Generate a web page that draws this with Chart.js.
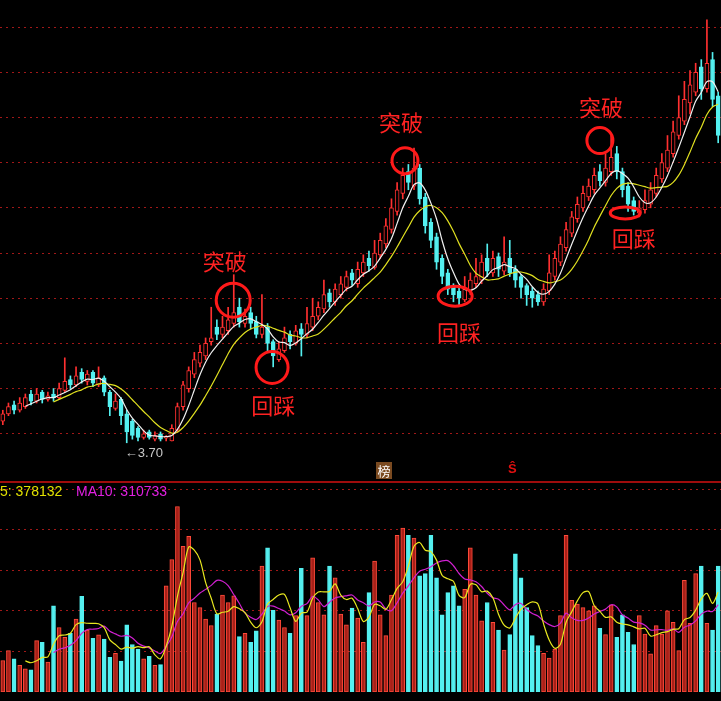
<!DOCTYPE html>
<html><head><meta charset="utf-8">
<script src="https://cdn.jsdelivr.net/npm/chart.js@4"></script>
<style>
html,body{margin:0;padding:0;background:#000;overflow:hidden;width:721px;height:701px;}
#p{position:absolute;left:0;top:0;width:721px;height:480px;}
#v{position:absolute;left:0;top:481px;width:721px;height:220px;border-top:2px solid #a00c0c;box-sizing:border-box;}
.t{position:absolute;font-family:Arial,"Liberation Sans",sans-serif;font-size:14px;white-space:nowrap;}
</style></head><body>
<div id="p"><canvas id="cp"></canvas></div>
<div id="v"><canvas id="cv"></canvas></div>
<div class="t" style="left:0;top:483px;color:#e0e000;">5: 378132</div>
<div class="t" style="left:76px;top:483px;color:#e020e0;">MA10: 310733</div>
<div class="t" style="left:376px;top:462px;width:16px;height:17px;background:#7a4a20;color:#fff;font-size:13px;text-align:center;font-family:'Noto Sans CJK SC';line-height:17px;">榜</div>
<div class="t" style="left:508px;top:461px;color:#e01010;font-size:13px;font-weight:bold;">Ŝ</div>
<script>
const opens=[3.82,3.86,3.91,3.88,3.90,3.97,3.93,3.98,3.94,3.97,3.95,3.99,4.05,4.02,4.09,4.04,4.09,4.02,4.06,3.98,3.89,3.94,3.86,3.82,3.78,3.73,3.76,3.72,3.75,3.73,3.71,3.77,3.90,4.00,4.08,4.14,4.18,4.26,4.34,4.30,4.32,4.36,4.45,4.36,4.42,4.37,4.30,4.34,4.26,4.16,4.21,4.30,4.25,4.33,4.30,4.34,4.40,4.44,4.53,4.48,4.52,4.56,4.64,4.58,4.64,4.72,4.67,4.74,4.80,4.88,4.98,5.08,5.20,5.12,5.22,5.06,4.92,4.84,4.72,4.64,4.56,4.54,4.49,4.54,4.58,4.60,4.72,4.64,4.73,4.65,4.72,4.66,4.62,4.57,4.54,4.52,4.48,4.54,4.62,4.70,4.78,4.86,4.94,5.00,5.06,5.10,5.20,5.14,5.20,5.30,5.20,5.12,5.04,4.97,4.99,5.02,5.08,5.16,5.22,5.30,5.40,5.48,5.58,5.64,5.78,5.66,5.82,5.62];
const closes=[3.86,3.90,3.88,3.92,3.95,3.93,3.97,3.94,3.96,3.95,4.00,4.04,4.02,4.07,4.05,4.08,4.03,4.06,3.98,3.90,3.93,3.85,3.76,3.74,3.73,3.75,3.73,3.74,3.72,3.73,3.78,3.90,4.02,4.10,4.16,4.20,4.25,4.28,4.30,4.34,4.38,4.42,4.37,4.40,4.36,4.30,4.34,4.25,4.18,4.22,4.28,4.26,4.32,4.30,4.36,4.40,4.45,4.52,4.48,4.55,4.58,4.62,4.60,4.66,4.70,4.68,4.75,4.82,4.90,5.00,5.10,5.18,5.14,5.22,5.05,4.90,4.82,4.70,4.62,4.55,4.52,4.50,4.55,4.60,4.62,4.70,4.65,4.72,4.66,4.70,4.64,4.60,4.56,4.52,4.50,4.48,4.55,4.64,4.72,4.80,4.88,4.95,5.02,5.08,5.12,5.18,5.15,5.22,5.28,5.20,5.10,5.02,4.98,5.00,5.04,5.10,5.18,5.25,5.32,5.42,5.50,5.60,5.68,5.75,5.66,5.80,5.60,5.40];
const highs=[3.88,3.92,3.93,3.95,3.97,3.99,4.00,3.99,3.98,4.00,4.03,4.17,4.07,4.12,4.11,4.10,4.10,4.12,4.07,3.99,3.97,3.95,3.88,3.83,3.79,3.77,3.77,3.76,3.76,3.74,3.80,3.92,4.04,4.12,4.20,4.24,4.28,4.45,4.38,4.40,4.45,4.63,4.50,4.44,4.45,4.40,4.52,4.36,4.27,4.26,4.34,4.32,4.35,4.36,4.45,4.50,4.48,4.60,4.55,4.58,4.62,4.65,4.66,4.70,4.74,4.76,4.82,4.86,4.94,5.05,5.14,5.22,5.24,5.33,5.24,5.08,4.94,4.86,4.74,4.66,4.58,4.56,4.62,4.64,4.72,4.74,4.80,4.76,4.75,4.84,4.82,4.68,4.63,4.58,4.56,4.54,4.58,4.74,4.76,4.84,4.92,4.98,5.06,5.12,5.16,5.22,5.24,5.30,5.40,5.34,5.22,5.14,5.06,5.04,5.10,5.14,5.22,5.30,5.40,5.48,5.62,5.70,5.76,5.80,5.82,6.04,5.86,5.64];
const lows=[3.80,3.85,3.86,3.87,3.89,3.91,3.92,3.92,3.93,3.93,3.94,3.98,4.00,4.01,4.03,4.02,4.01,4.01,3.96,3.85,3.88,3.80,3.70,3.72,3.71,3.72,3.72,3.71,3.71,3.71,3.71,3.76,3.88,3.98,4.06,4.12,4.16,4.24,4.27,4.28,4.30,4.34,4.34,4.34,4.33,4.28,4.28,4.20,4.12,4.15,4.20,4.22,4.24,4.18,4.28,4.32,4.38,4.42,4.45,4.46,4.50,4.54,4.57,4.56,4.62,4.65,4.66,4.72,4.78,4.86,4.96,5.05,5.10,5.10,5.02,4.86,4.78,4.66,4.58,4.52,4.48,4.46,4.48,4.52,4.56,4.58,4.62,4.62,4.62,4.63,4.62,4.56,4.50,4.46,4.45,4.46,4.46,4.52,4.60,4.68,4.76,4.84,4.92,4.98,5.04,5.08,5.12,5.12,5.18,5.16,5.06,4.98,4.96,4.95,4.97,5.00,5.06,5.14,5.20,5.28,5.38,5.46,5.52,5.62,5.60,5.64,5.56,5.36];
const volumes=[155,204,163,131,114,109,253,245,147,425,318,269,289,359,472,305,265,282,261,171,191,152,331,234,212,163,176,131,135,
523,653,914,718,767,441,416,359,327,384,478,441,474,273,289,245,302,620,710,403,354,318,289,376,609,376,661,441,380,620,563,384,331,413,364,245,490,645,
380,278,478,772,808,772,759,572,583,772,563,380,490,523,425,506,710,478,351,441,343,305,207,283,681,563,416,278,229,191,167,212,376,772,452,433,416,400,425,314,283,429,269,380,294,234,376,286,188,327,286,400,343,204,550,338,583,620,338,305,620];
const priceGrid=[3.75,4.0,4.25,4.5,4.75,5.0,5.25,5.5,5.75,6.0];
const volGrid=[200,400,600,800,1000];
const circles=[[40.9,4.489,17,17],[47.8,4.117,16,16],[71.4,5.261,13,13],[80.3,4.511,17,10],[106,5.372,13,13],[110.5,4.972,15,6]];
const notes=[[39.4,4.70,'突破'],[48,3.906,'回踩'],[70.7,5.473,'突破'],[81,4.311,'回踩'],[106.2,5.556,'突破'],[112,4.828,'回踩']];
const lowMark=[22,3.70,'←3.70'];

const labels=closes.map((_,i)=>i);
function ma(arr,n){return arr.map((_,i)=>i<n-1?null:arr.slice(i-n+1,i+1).reduce((a,b)=>a+b,0)/n);}
const up=closes.map((c,i)=>c>=opens[i]);
const RED='#ff3030',CY='#54f0f0';

const gridY=(vals)=>({display:true,afterBuildTicks:s=>{s.ticks=vals.map(v=>({value:v}));},
  ticks:{display:false},border:{display:false,dash:[2,4]},afterFit:s=>{s.width=0;},
  grid:{color:'#a01818',lineWidth:1,drawTicks:false,tickLength:0}});

const annot={id:'annot',afterDatasetsDraw(ch){
  const c=ch.ctx,x=ch.scales.x,y=ch.scales.y;
  c.save();c.strokeStyle='#ff1a1a';c.lineWidth=3;
  circles.forEach(([i,p,rx,ry])=>{c.beginPath();c.ellipse(x.getPixelForValue(i),y.getPixelForValue(p),rx,ry,0,0,Math.PI*2);c.stroke();});
  c.fillStyle='#ff2222';c.font='22px "Noto Sans CJK SC"';c.textAlign='center';c.textBaseline='middle';
  notes.forEach(([i,p,t])=>c.fillText(t,x.getPixelForValue(i),y.getPixelForValue(p)));
  c.fillStyle='#c8c8c8';c.font='13px Arial';c.textAlign='left';c.textBaseline='top';
  c.fillText(lowMark[2],x.getPixelForValue(lowMark[0])-2,y.getPixelForValue(lowMark[1])+4);
  c.restore();}};

new Chart(document.getElementById('cp'),{type:'bar',
 data:{labels,datasets:[
  {type:'line',data:ma(closes,5),borderColor:'#f0f0f0',borderWidth:1.2,pointRadius:0,tension:0.3,order:1},
  {type:'line',data:ma(closes,10),borderColor:'#e0e020',borderWidth:1.2,pointRadius:0,tension:0.3,order:2},
  {data:highs.map((h,i)=>[lows[i],h]),backgroundColor:up.map(u=>u?RED:CY),barThickness:1,grouped:false,order:4},
  {data:opens.map((o,i)=>o===closes[i]?[o-0.004,o+0.004]:[o,closes[i]]),backgroundColor:up.map(u=>u?'#000':CY),borderColor:up.map(u=>u?RED:CY),borderWidth:1,borderSkipped:false,barThickness:4,grouped:false,order:3}
 ]},
 options:{responsive:true,maintainAspectRatio:false,animation:false,events:[],layout:{padding:0},
  plugins:{legend:{display:false},tooltip:{enabled:false}},
  scales:{x:{display:false,offset:true},y:Object.assign(gridY(priceGrid),{min:3.494,max:6.15})}},
 plugins:[annot]});

new Chart(document.getElementById('cv'),{type:'bar',
 data:{labels,datasets:[
  {type:'line',data:ma(volumes,5),borderColor:'#e8e820',borderWidth:1.2,pointRadius:0,tension:0.3,order:1},
  {type:'line',data:ma(volumes,10),borderColor:'#d020d0',borderWidth:1.2,pointRadius:0,tension:0.3,order:2},
  {data:volumes,backgroundColor:up.map(u=>u?'#a82018':CY),borderColor:up.map(u=>u?'#ff4a3a':CY),borderWidth:1,borderSkipped:false,barThickness:4,grouped:false,order:3}
 ]},
 options:{responsive:true,maintainAspectRatio:false,animation:false,events:[],layout:{padding:{top:2,bottom:9}},
  plugins:{legend:{display:false},tooltip:{enabled:false}},
  scales:{x:{display:false,offset:true},y:Object.assign(gridY(volGrid),{min:0,max:1020})}}});
</script></body></html>
